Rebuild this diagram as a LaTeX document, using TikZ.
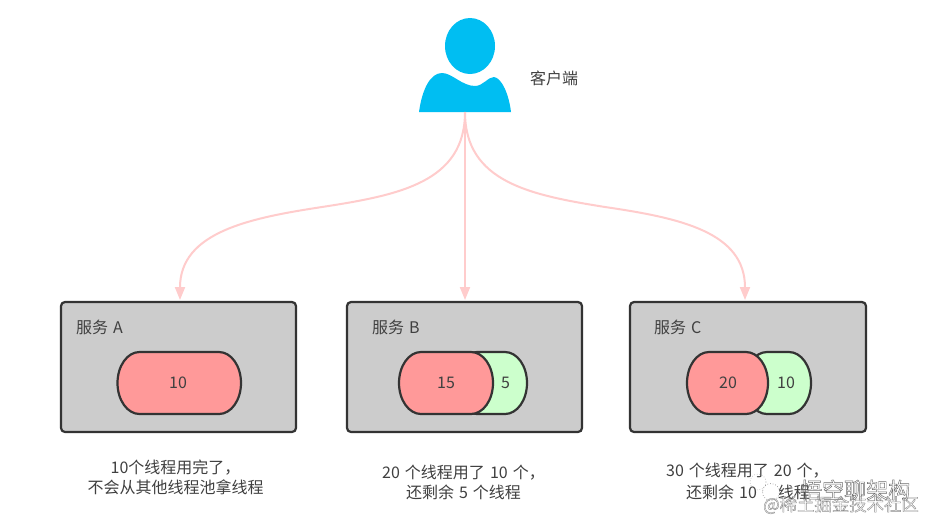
\documentclass[tikz,border=0pt]{standalone}
\usepackage{fontspec}
\setmainfont{Noto Sans CJK SC}[BoldFont={Noto Sans CJK SC}]
\usetikzlibrary{arrows.meta}
\definecolor{ink}{HTML}{333333}
\definecolor{txt}{HTML}{404040}
\definecolor{boxfill}{HTML}{CCCCCC}
\definecolor{redfill}{HTML}{FF9999}
\definecolor{greenfill}{HTML}{CCFFCC}
\definecolor{linkc}{HTML}{FFCCCC}
\definecolor{personc}{HTML}{00BEF2}
\newcommand{\lblfont}{\fontsize{16}{20}\selectfont}
\newcommand{\wsp}{\hspace{5pt}}
\tikzset{
  x=1pt,y=-1pt,
  servicebox/.style={draw=ink,line width=2.2pt,fill=boxfill,rounded corners=4pt,minimum height=130pt,inner sep=0pt,outer sep=0pt,anchor=north west},
  pillline/.style={draw=ink,line width=2.2pt},
  label/.style={text=txt,font=\lblfont,inner sep=0pt},
  caption/.style={label,align=center},
  link/.style={draw=linkc,line width=2pt,-{Triangle[length=13pt,width=10pt]}},
}
% \pill{name}{fill}{left}{right}{text x}{text}
\newcommand{\pill}[6]{%
  \filldraw[pillline,fill=#2] (#3+22,352) -- (#4-22,352)
    arc[start angle=90,end angle=-90,x radius=22pt,y radius=31pt]
    -- (#3+22,414)
    arc[start angle=270,end angle=90,x radius=22pt,y radius=31pt] -- cycle;
  \node[label] (#1) at (#5,383) {#6};
}
\begin{document}
\begin{tikzpicture}
\useasboundingbox (0,0) rectangle (940,531);
\fill[white] (0,0) rectangle (940,531);
% person
\fill[personc] (470,46) ellipse [x radius=25,y radius=28];
\fill[personc] (419,112) .. controls (422,90) and (430,73) .. (442,73)
  .. controls (452,73) and (462,86) .. (475,86)
  .. controls (483,86) and (488,77) .. (494,77)
  .. controls (502,78) and (509,95) .. (511,112) -- cycle;
\coordinate (client) at (465,112);
\node[label,anchor=west] (clientlabel) at (530,78) {客户端};
% services
\node[servicebox,minimum width=235pt] (svcA) at (61,302) {};
\node[servicebox,minimum width=235pt] (svcB) at (347,302) {};
\node[servicebox,minimum width=236pt] (svcC) at (630,302) {};
\coordinate (topA) at (180,300);
\coordinate (topB) at (465,300);
\coordinate (topC) at (745,300);
\node[label,anchor=west] (nameA) at (76,327) {服务\wsp A};
\node[label,anchor=west] (nameB) at (372,327) {服务\wsp B};
\node[label,anchor=west] (nameC) at (654,327) {服务\wsp C};
% pills
\pill{poolA}{redfill}{117.5}{241}{178}{10}
\pill{freeB}{greenfill}{455}{527}{505.5}{5}
\pill{poolB}{redfill}{399}{493}{446}{15}
\pill{freeC}{greenfill}{745}{811}{786}{10}
\pill{poolC}{redfill}{687}{768}{728}{20}
% connectors
\draw[link] (client) .. controls (465,182) and (400,195) .. (322,207)
  .. controls (250,218) and (180,232) .. (topA);
\draw[link] (client) -- (topB);
\draw[link] (client) .. controls (465,182) and (530,195) .. (605,207)
  .. controls (680,218) and (745,232) .. (topC);
% captions
\node[caption] (capA) at (175.5,477.5) {10个线程用完了，\\不会从其他线程池拿线程};
\node[caption] (capB) at (463.5,482) {20\wsp 个线程用了\wsp 10\wsp 个，\\还剩余\wsp 5\wsp 个线程};
\node[label,anchor=west] (capC1) at (666,471) {30\wsp 个线程用了\wsp 20\wsp 个，};
\node[label,anchor=west] (capC2) at (686,492) {还剩余\wsp 10\wsp 个线程};
% watermark
\node[circle,draw=black!35,dotted,line width=0.6pt,minimum size=16pt,inner sep=0pt] (wmdot1) at (758,482) {};
\node[circle,fill=white,draw=black!45,dotted,line width=0.7pt,minimum size=17pt,inner sep=0pt] (wmdot2) at (771,492) {};
\node[font=\fontsize{22}{24}\selectfont,text=white,inner sep=0pt,anchor=west] (wmname) at (800,490) {\special{pdf:literal q 1 Tr 0.45 w 0.42 G}悟空聊架构\special{pdf:literal Q}};
\node[font=\fontsize{17.4}{19}\selectfont,text=white,inner sep=0pt,anchor=west] (wmsite) at (763,505) {\special{pdf:literal q 1 Tr 0.4 w 0.55 G}@稀土掘金技术社区\special{pdf:literal Q}};
\end{tikzpicture}
\end{document}
